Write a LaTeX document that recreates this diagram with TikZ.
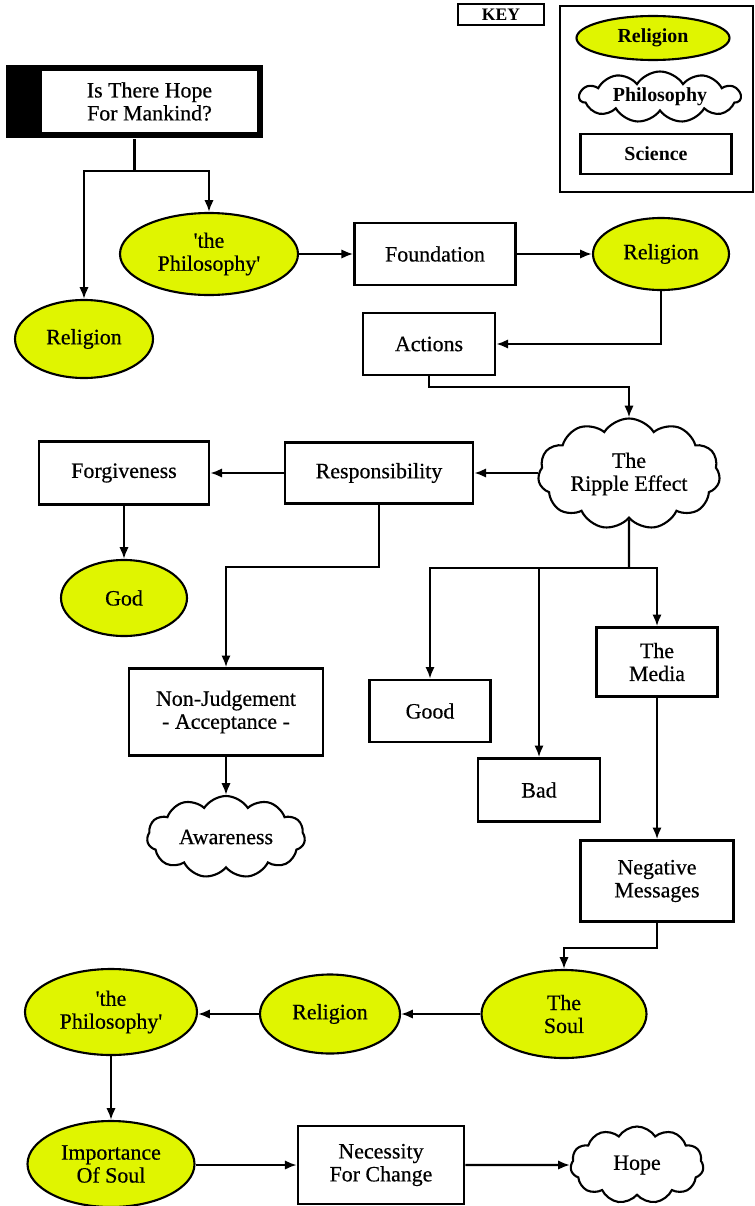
\documentclass[tikz,border=0pt]{standalone}
\usepackage{fontspec}
\setmainfont{Liberation Serif}
\newfontfamily\diafont{Liberation Serif}[FakeBold=0.5]
\usetikzlibrary{shapes.geometric,shapes.symbols,arrows.meta}

\definecolor{relyellow}{RGB}{224,245,0}

\tikzset{
  sci/.style={draw, rectangle, line width=2.2pt, inner sep=0pt, align=center,
    font=\diafont\fontsize{18.7}{19.6}\selectfont},
  rel/.style={draw, ellipse, fill=relyellow, line width=1.8pt, inner sep=0pt, align=center,
    font=\diafont\fontsize{18.7}{19.6}\selectfont},
  phil/.style={draw, cloud, cloud puffs=11, cloud puff arc=115, cloud ignores aspect,
    line width=1.8pt, inner sep=0pt, align=center, font=\diafont\fontsize{18.7}{19.6}\selectfont},
  keylbl/.style={font=\bfseries\fontsize{17}{18}\selectfont}
}

\begin{document}
\begin{tikzpicture}[x=0.03cm, y=-0.03cm, >={Latex[length=10pt,width=8pt]}, line width=1.9pt]
\useasboundingbox (0,0) rectangle (754,1206);

% key
\node[draw, line width=0.9pt, minimum width=2.58cm, minimum height=0.63cm, inner sep=0pt,
  font=\bfseries\fontsize{15}{16}\selectfont] (keytitle) at (501,14.5) {KEY};
\draw[line width=0.9pt] (560,6) rectangle (753,192);
\node[rel, keylbl, minimum width=4.59cm, minimum height=1.32cm] (keyrel) at (653,38) {Religion};
\node[phil, keylbl, minimum width=4.83cm, minimum height=1.53cm] (keyphil) at (660,97) {Philosophy};
\node[sci, keylbl, minimum width=4.53cm, minimum height=1.2cm] (keysci) at (656,154) {Science};

% nodes
\node[fill=black, minimum width=7.71cm, minimum height=2.19cm] (start) at (134.5,101.5) {};
\node[sci, fill=white, line width=1pt, minimum width=6.51cm, minimum height=1.89cm] (quest) at (149.5,101.5) {Is There Hope\\For Mankind?};

\node[rel, minimum width=5.34cm, minimum height=2.46cm] (phil1) at (209,254) {\textquotesingle the\\Philosophy\textquotesingle};
\node[rel, minimum width=4.14cm, minimum height=2.34cm] (rel1) at (84,339) {Religion};
\node[sci, minimum width=4.83cm, minimum height=1.86cm] (found) at (435,254) {Foundation};
\node[rel, minimum width=4.08cm, minimum height=2.16cm] (rel2) at (661,254) {Religion};
\node[sci, minimum width=3.96cm, minimum height=1.86cm] (act) at (429,344) {Actions};

\node[phil, minimum width=5.46cm, minimum height=3.33cm] (ripple) at (629,474) {The\\Ripple Effect};
\node[sci, minimum width=5.64cm, minimum height=1.83cm] (resp) at (379,473) {Responsibility};
\node[sci, minimum width=5.1cm, minimum height=1.89cm] (forg) at (124,473) {Forgiveness};
\node[rel, minimum width=3.78cm, minimum height=2.28cm] (god) at (124,598) {God};
\node[sci, minimum width=5.82cm, minimum height=2.61cm] (nonj) at (226,712) {Non-Judgement\\- Acceptance -};
\node[phil, minimum width=4.74cm, minimum height=2.46cm] (aware) at (226,837) {Awareness};

\node[sci, minimum width=3.63cm, minimum height=1.86cm] (good) at (430,711) {Good};
\node[sci, minimum width=3.66cm, minimum height=1.89cm] (bad) at (539,790) {Bad};
\node[sci, minimum width=3.63cm, minimum height=2.07cm] (media) at (657,662) {The\\Media};
\node[sci, minimum width=4.59cm, minimum height=2.43cm] (neg) at (657,881) {Negative\\Messages};

\node[rel, minimum width=4.95cm, minimum height=2.64cm] (soul) at (564,1014) {The\\Soul};
\node[rel, minimum width=4.2cm, minimum height=2.37cm] (rel3) at (330,1014) {Religion};
\node[rel, minimum width=5.16cm, minimum height=2.58cm] (phil2) at (111,1012) {\textquotesingle the\\Philosophy\textquotesingle};
\node[rel, minimum width=5.01cm, minimum height=2.58cm] (imp) at (111,1164) {Importance\\Of Soul};
\node[sci, minimum width=4.98cm, minimum height=2.34cm] (nec) at (381,1165) {Necessity\\For Change};
\node[phil, minimum width=3.99cm, minimum height=2.31cm] (hope) at (637,1165) {Hope};

% connectors
\coordinate (s1) at (134.5,171);
\draw (start.south) -- (s1);
\draw[->] (s1) -| (rel1.north);
\draw[->] (s1) -| (phil1.north);
\draw[->] (phil1) -- (found);
\draw[->] (found) -- (rel2);
\draw[->] (rel2.south) |- (act.east);

\coordinate (a1) at (629,387);
\draw[->] (act.south) |- (a1) -- (ripple.north);
\draw[->] (ripple.west |- resp.east) -- (resp.east);
\draw[->] (resp) -- (forg);
\draw[->] (forg) -- (god);

\coordinate (r1) at (379,567);
\draw[->] (resp.south) |- (r1) -| (nonj.north);
\draw[->] (nonj) -- (aware);

\coordinate (r2) at (629,568);
\draw (ripple.south) -- (r2);
\draw[->] (r2) -| (good.north);
\draw[->] (r2) -| (media.north);
\draw[->] (r2 -| bad.north) -- (bad.north);
\draw[->] (media) -- (neg);

\draw[->] (neg.south) -- ++(0,25) -| (soul.north);
\draw[->] (soul) -- (rel3);
\draw[->] (rel3.west) -- (phil2.east |- rel3.west);
\draw[->] (phil2) -- (imp);
\draw[->] (imp.east |- nec.west) -- (nec.west);
\draw[->] (nec) -- (hope);

\end{tikzpicture}
\end{document}
